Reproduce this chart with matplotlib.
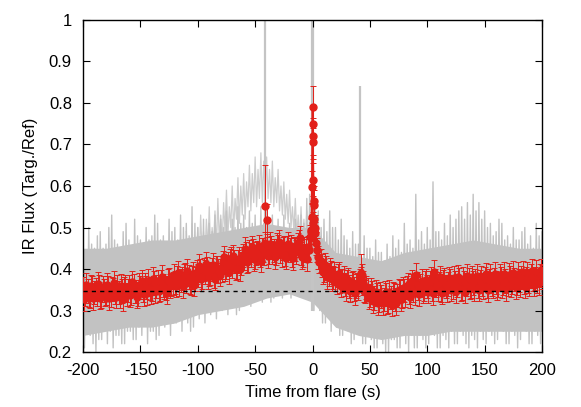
import numpy as np
import matplotlib.pyplot as plt

plt.rcParams['font.family'] = ['Liberation Sans', 'DejaVu Sans']
plt.rcParams['font.size'] = 12
plt.rcParams['axes.unicode_minus'] = False

# gray curves: upper / lower excursions, 2.5 s steps
gray_t = np.arange(-200, 200.1, 2.5)
gray_hi = [0.47, 0.44, 0.50, 0.46, 0.45, 0.48, 0.49, 0.45, 0.46, 0.50, 0.53, 0.47, 0.46, 0.44, 0.49, 0.51, 0.47, 0.45, 0.52, 0.48,
           0.47, 0.45, 0.50, 0.47, 0.48, 0.53, 0.51, 0.47, 0.48, 0.46, 0.52, 0.49, 0.50, 0.47, 0.53, 0.50, 0.51, 0.48, 0.55, 0.51,
           0.50, 0.47, 0.52, 0.48, 0.51, 0.49, 0.53, 0.48, 0.52, 0.50, 0.54, 0.49, 0.52, 0.50, 0.55, 0.51, 0.53, 0.50, 0.54, 0.51,
           0.53, 0.50, 0.55, 0.51, 0.54, 0.50, 0.53, 0.49, 0.52, 0.50, 0.53, 0.49, 0.51, 0.48, 0.52, 0.49, 0.53, 0.51, 0.57, 0.58,
           0.60, 0.55, 0.54, 0.50, 0.52, 0.49, 0.54, 0.50, 0.50, 0.47, 0.52, 0.48, 0.47, 0.45, 0.49, 0.46, 0.46, 0.43, 0.48, 0.45,
           0.45, 0.43, 0.47, 0.44, 0.44, 0.42, 0.46, 0.43, 0.48, 0.45, 0.47, 0.44, 0.51, 0.46, 0.47, 0.45, 0.58, 0.47, 0.49, 0.46,
           0.50, 0.47, 0.61, 0.49, 0.49, 0.47, 0.51, 0.48, 0.53, 0.50, 0.52, 0.54, 0.55, 0.52, 0.56, 0.53, 0.58, 0.54, 0.56, 0.52,
           0.54, 0.50, 0.51, 0.48, 0.49, 0.52, 0.51, 0.47, 0.48, 0.46, 0.50, 0.47, 0.47, 0.49, 0.50, 0.46, 0.48, 0.45, 0.51, 0.48,
           0.49]
gray_lo = [0.21, 0.25, 0.24, 0.22, 0.20, 0.23, 0.23, 0.26, 0.22, 0.25, 0.21, 0.24, 0.24, 0.22, 0.22, 0.25, 0.25, 0.23, 0.23, 0.26,
           0.24, 0.27, 0.22, 0.25, 0.25, 0.23, 0.24, 0.27, 0.26, 0.28, 0.24, 0.27, 0.27, 0.29, 0.25, 0.28, 0.27, 0.25, 0.26, 0.29,
           0.28, 0.31, 0.27, 0.30, 0.29, 0.31, 0.28, 0.31, 0.30, 0.32, 0.29, 0.32, 0.31, 0.29, 0.30, 0.33, 0.32, 0.34, 0.31, 0.33,
           0.33, 0.35, 0.32, 0.35, 0.34, 0.32, 0.33, 0.36, 0.35, 0.33, 0.34, 0.36, 0.33, 0.35, 0.35, 0.37, 0.34, 0.36, 0.33, 0.34,
           0.30, 0.32, 0.30, 0.27, 0.27, 0.29, 0.25, 0.27, 0.26, 0.24, 0.24, 0.26, 0.25, 0.22, 0.23, 0.25, 0.24, 0.22, 0.22, 0.25,
           0.23, 0.21, 0.21, 0.24, 0.22, 0.20, 0.20, 0.23, 0.23, 0.21, 0.21, 0.24, 0.22, 0.20, 0.24, 0.21, 0.21, 0.24, 0.23, 0.21,
           0.22, 0.25, 0.24, 0.21, 0.21, 0.24, 0.23, 0.21, 0.25, 0.22, 0.22, 0.25, 0.24, 0.22, 0.21, 0.24, 0.23, 0.21, 0.25, 0.23,
           0.22, 0.25, 0.24, 0.22, 0.23, 0.26, 0.25, 0.22, 0.22, 0.25, 0.24, 0.21, 0.23, 0.26, 0.25, 0.22, 0.22, 0.25, 0.24, 0.22,
           0.23]

# one curve with a broad brightening before the flare
bump_t = np.arange(-110, -2.4, 2.5)
bump_hi = [0.49, 0.46, 0.51, 0.47, 0.50, 0.53, 0.49, 0.52, 0.55, 0.50,
           0.54, 0.57, 0.53, 0.56, 0.59, 0.55, 0.60, 0.57, 0.62, 0.60,
           0.63, 0.61, 0.65, 0.63, 0.67, 0.64, 0.68, 0.66, 0.67, 0.64,
           0.66, 0.62, 0.64, 0.60, 0.61, 0.58, 0.59, 0.55, 0.57, 0.53,
           0.55, 0.52, 0.54, 0.51]
bump_lo = [0.40, 0.42, 0.41, 0.43, 0.42, 0.44, 0.43, 0.45, 0.44, 0.46,
           0.45, 0.47, 0.46, 0.49, 0.48, 0.50, 0.49, 0.52, 0.51, 0.53,
           0.52, 0.55, 0.54, 0.56, 0.55, 0.57, 0.56, 0.58, 0.57, 0.56,
           0.55, 0.56, 0.54, 0.53, 0.52, 0.51, 0.50, 0.49, 0.48, 0.47,
           0.46, 0.45, 0.44, 0.43]

# denser core of the gray curves (20 s steps)
core_t = np.arange(-200, 201, 20)
core_hi = [0.45, 0.45, 0.46, 0.47, 0.47, 0.48, 0.49, 0.50, 0.51, 0.50, 0.50,
           0.44, 0.43, 0.42, 0.44, 0.45, 0.46, 0.47, 0.46, 0.45, 0.45]
core_lo = [0.24, 0.25, 0.26, 0.26, 0.27, 0.29, 0.30, 0.31, 0.33, 0.34, 0.32,
           0.26, 0.24, 0.23, 0.24, 0.24, 0.25, 0.25, 0.25, 0.25, 0.25]

# narrow spikes in single curves
spike_t = [-41, -0.6, 0.4, 41]
spike_lo = [0.45, 0.30, 0.30, 0.40]
spike_hi = [1.0, 1.0, 1.0, 0.84]

# stacked flux, even seconds
red_t = np.arange(-200, 201, 2)
red_y = [0.352, 0.338, 0.347, 0.333, 0.355, 0.344, 0.339, 0.357, 0.335, 0.348,
         0.341, 0.356, 0.336, 0.350, 0.343, 0.358, 0.334, 0.347, 0.352, 0.339,
         0.357, 0.342, 0.361, 0.346, 0.339, 0.355, 0.349, 0.363, 0.341, 0.353,
         0.352, 0.366, 0.357, 0.348, 0.369, 0.361, 0.354, 0.372, 0.359, 0.365,
         0.368, 0.380, 0.363, 0.377, 0.385, 0.370, 0.381, 0.366, 0.388, 0.376,
         0.384, 0.397, 0.380, 0.393, 0.401, 0.387, 0.398, 0.382, 0.404, 0.395,
         0.403, 0.416, 0.400, 0.412, 0.421, 0.406, 0.418, 0.403, 0.425, 0.414,
         0.425, 0.437, 0.421, 0.434, 0.444, 0.428, 0.440, 0.432, 0.447, 0.438,
         0.456, 0.440, 0.452, 0.445, 0.438, 0.455, 0.443, 0.449, 0.436, 0.451,
         0.446, 0.433, 0.449, 0.441, 0.466, 0.438, 0.432, 0.444, 0.452, 0.478,
         0.510, 0.486, 0.446, 0.418, 0.409, 0.397, 0.403, 0.386, 0.392, 0.380,
         0.376, 0.384, 0.369, 0.372, 0.362, 0.370, 0.357, 0.364, 0.352, 0.359,
         0.353, 0.378, 0.366, 0.345, 0.350, 0.336, 0.343, 0.330, 0.338, 0.325,
         0.334, 0.327, 0.338, 0.322, 0.331, 0.340, 0.326, 0.336, 0.345, 0.333,
         0.348, 0.356, 0.343, 0.361, 0.349, 0.386, 0.354, 0.360, 0.345, 0.366,
         0.357, 0.368, 0.352, 0.393, 0.360, 0.365, 0.349, 0.370, 0.358, 0.364,
         0.371, 0.356, 0.366, 0.360, 0.374, 0.353, 0.368, 0.362, 0.375, 0.358,
         0.366, 0.373, 0.357, 0.369, 0.362, 0.377, 0.359, 0.371, 0.364, 0.374,
         0.367, 0.360, 0.376, 0.365, 0.371, 0.362, 0.379, 0.368, 0.374, 0.365,
         0.372, 0.380, 0.368, 0.377, 0.371, 0.383, 0.374, 0.378, 0.370, 0.385,
         0.381]
# stacked flux, odd seconds
red2_t = np.arange(-199, 200, 2)
red2_y = [0.327, 0.362, 0.336, 0.358, 0.329, 0.350, 0.365, 0.331, 0.356, 0.340,
          0.362, 0.330, 0.353, 0.366, 0.333, 0.344, 0.360, 0.328, 0.357, 0.349,
          0.337, 0.368, 0.345, 0.333, 0.362, 0.370, 0.340, 0.356, 0.372, 0.344,
          0.377, 0.346, 0.370, 0.352, 0.381, 0.355, 0.343, 0.374, 0.362, 0.384,
          0.360, 0.391, 0.372, 0.358, 0.386, 0.395, 0.367, 0.380, 0.362, 0.393,
          0.408, 0.376, 0.399, 0.412, 0.381, 0.390, 0.410, 0.377, 0.403, 0.386,
          0.397, 0.428, 0.405, 0.392, 0.424, 0.431, 0.401, 0.418, 0.399, 0.433,
          0.448, 0.418, 0.441, 0.452, 0.423, 0.437, 0.455, 0.420, 0.446, 0.462,
          0.431, 0.461, 0.440, 0.428, 0.458, 0.466, 0.433, 0.452, 0.427, 0.460,
          0.455, 0.426, 0.447, 0.458, 0.475, 0.428, 0.450, 0.423, 0.446, 0.495,
          0.500, 0.462, 0.428, 0.420, 0.392, 0.410, 0.381, 0.398, 0.375, 0.389,
          0.367, 0.389, 0.360, 0.380, 0.351, 0.374, 0.348, 0.367, 0.341, 0.362,
          0.372, 0.385, 0.348, 0.356, 0.331, 0.351, 0.322, 0.345, 0.318, 0.340,
          0.317, 0.342, 0.320, 0.345, 0.314, 0.338, 0.318, 0.349, 0.327, 0.352,
          0.337, 0.362, 0.333, 0.370, 0.341, 0.365, 0.339, 0.372, 0.350, 0.373,
          0.345, 0.376, 0.341, 0.372, 0.350, 0.380, 0.343, 0.375, 0.349, 0.378,
          0.350, 0.379, 0.347, 0.381, 0.352, 0.376, 0.345, 0.383, 0.355, 0.380,
          0.352, 0.384, 0.350, 0.380, 0.356, 0.387, 0.349, 0.383, 0.358, 0.388,
          0.354, 0.385, 0.357, 0.389, 0.352, 0.386, 0.360, 0.391, 0.356, 0.388,
          0.361, 0.392, 0.358, 0.390, 0.364, 0.395, 0.362, 0.393, 0.366, 0.397]
red_err = 0.028

# extra points around the flare peak and the -40 s / +42 s events
peak_t = [-41, -40, -1.0, -0.5, -0.2, 0.0, 0.2, 0.4, 0.6, 0.8, 1.0, 1.2, 1.5, 2.0, 42]
peak_y = [0.552, 0.517, 0.49, 0.525, 0.597, 0.79, 0.75, 0.72, 0.705, 0.615,
          0.565, 0.555, 0.52, 0.50, 0.39]
peak_err = [0.098, 0.04, 0.03, 0.035, 0.04, 0.05, 0.045, 0.045, 0.04, 0.04,
            0.035, 0.035, 0.03, 0.03, 0.045]

baseline = 0.346

fig = plt.figure(figsize=(5.81, 4.07), dpi=100)
ax = fig.add_axes([0.1429, 0.1351, 0.79, 0.8158])

gray = '#c2c2c2'
# noisy gray curves: up/down excursions joined into one trace
bz_t = np.ravel(np.column_stack([bump_t, bump_t + 1.25]))
bz_y = np.ravel(np.column_stack([bump_hi, bump_lo]))
ax.plot(bz_t, bz_y, color='#cdcdcd', lw=0.9, zorder=1)
ax.fill_between(core_t, core_lo, core_hi, color=gray, lw=0, zorder=1)
zz_t = np.ravel(np.column_stack([gray_t, gray_t + 1.25]))
zz_y = np.ravel(np.column_stack([gray_hi, gray_lo]))
ax.plot(zz_t, zz_y, color=gray, lw=1.0, zorder=1)
ax.vlines(spike_t, spike_lo, spike_hi, color='#c4c4c4', lw=1.6, zorder=1)

red = '#e2201a'
ebkw = dict(color=red, ecolor=red, mfc=red, mec=red, ms=5, lw=1,
            elinewidth=0.7, capsize=2.5, capthick=0.7, zorder=3)
ax.errorbar(red_t, red_y, yerr=red_err, fmt='o-', **ebkw)
ax.errorbar(red2_t, red2_y, yerr=red_err, fmt='o-', **ebkw)
ax.errorbar(peak_t, peak_y, yerr=peak_err, fmt='o', **ebkw)
ax.plot([-1.0, 0.0, 0.4, 1.0, 2.0], [0.49, 0.79, 0.72, 0.565, 0.50],
        color=red, lw=1.2, zorder=3)

ax.axhline(baseline, color='black', lw=1, ls=(0, (3, 3)), zorder=4)

ax.set_xlim(-200, 200)
ax.set_ylim(0.2, 1.0)
ax.set_xticks(np.arange(-200, 201, 50))
ax.set_yticks(np.arange(0.2, 1.01, 0.1))
ax.set_yticklabels(['0.2', '0.3', '0.4', '0.5', '0.6', '0.7', '0.8', '0.9', '1'])
ax.tick_params(direction='in', top=True, right=True, length=5, width=0.8,
               labelsize=12, pad=8)
for s in ax.spines.values():
    s.set_linewidth(1)

ax.set_xlabel('Time from flare (s)', fontsize=12, labelpad=5)
ax.set_ylabel('IR Flux (Targ./Ref)', fontsize=12, labelpad=8)

fig.savefig('out.png', dpi=100)
